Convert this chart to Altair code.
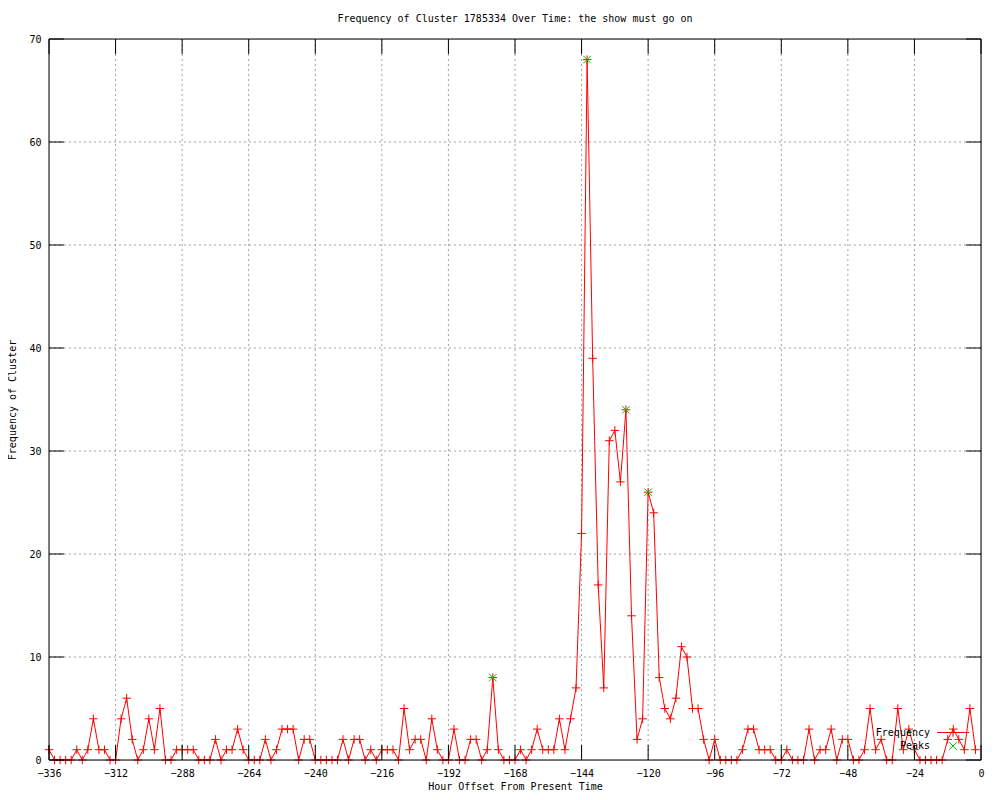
import altair as alt
import pandas as pd

# ---- data ----
hours = list(range(-336, 0, 2))  # one sample every 2 hours, -336 .. -2
freq = [
    1, 0, 0, 0, 0, 1, 0, 1, 4, 1,
    1, 0, 0, 4, 6, 2, 0, 1, 4, 1,
    5, 0, 0, 1, 1, 1, 1, 0, 0, 0,
    2, 0, 1, 1, 3, 1, 0, 0, 0, 2,
    0, 1, 3, 3, 3, 0, 2, 2, 0, 0,
    0, 0, 0, 2, 0, 2, 2, 0, 1, 0,
    1, 1, 1, 0, 5, 1, 2, 2, 0, 4,
    1, 0, 0, 3, 0, 0, 2, 2, 0, 1,
    8, 1, 0, 0, 0, 1, 0, 1, 3, 1,
    1, 1, 4, 1, 4, 7, 22, 68, 39, 17,
    7, 31, 32, 27, 34, 14, 2, 4, 26, 24,
    8, 5, 4, 6, 11, 10, 5, 5, 2, 0,
    2, 0, 0, 0, 0, 1, 3, 3, 1, 1,
    1, 0, 0, 1, 0, 0, 0, 3, 0, 1,
    1, 3, 0, 2, 2, 0, 0, 1, 5, 1,
    2, 0, 0, 5, 1, 3, 1, 0, 0, 0,
    0, 0, 2, 3, 2, 1, 5, 1,
]
peak_hours = [-176, -142, -128, -120]
peak_values = [8, 68, 34, 26]

x_ticks = [-336, -312, -288, -264, -240, -216, -192, -168, -144, -120, -96, -72, -48, -24, 0]
y_ticks = [0, 10, 20, 30, 40, 50, 60, 70]
legend_labels = ["Frequency", "Peaks"]

title_text = "Frequency of Cluster 1785334 Over Time: the show must go on"
x_title = "Hour Offset From Present Time"
y_title = "Frequency of Cluster"

# ---- styling ----
W, H = 932, 721
FONT = "DejaVu Sans Mono"
RED = "#ff0000"
GREEN = "#00c000"
PLUS = "M-1,0L1,0M0,-1L0,1"
CROSS = "M-1,-1L1,1M-1,1L1,-1"
TICK = 15

df = pd.DataFrame({"hour": hours, "freq": freq})
peaks_df = pd.DataFrame({"hour": peak_hours, "freq": peak_values})
xt_df = pd.DataFrame({"hour": x_ticks})
yt_df = pd.DataFrame({"freq": y_ticks})
xg_df = pd.DataFrame({"hour": x_ticks[1:-1]})
yg_df = pd.DataFrame({"freq": y_ticks[1:-1]})

xs = alt.Scale(domain=[x_ticks[0], x_ticks[-1]], nice=False, zero=False)
ys = alt.Scale(domain=[y_ticks[0], y_ticks[-1]], nice=False, zero=False)

axis_font = dict(labelFont=FONT, labelFontSize=10, labelColor="black",
                 labelFontWeight="normal",
                 titleFont=FONT, titleFontSize=10, titleFontWeight="normal",
                 titleColor="black")

x_axis = alt.Axis(values=x_ticks, title=x_title, grid=False, ticks=False, tickSize=0,
                  domain=False, labelFlush=False, labelOverlap=False, labelPadding=8,
                  titlePadding=3, **axis_font)
y_axis = alt.Axis(values=y_ticks, title=y_title, grid=False, ticks=False, tickSize=0,
                  domain=False, labelFlush=False, labelOverlap=False, labelPadding=8,
                  titlePadding=11, **axis_font)


def X():
    return alt.X("hour:Q", scale=xs, axis=x_axis, title=x_title)


def Y():
    return alt.Y("freq:Q", scale=ys, axis=y_axis, title=y_title)


grid_style = dict(color="#a0a0a0", strokeWidth=1, strokeDash=[2, 3])
xgrid = alt.Chart(xg_df).mark_rule(**grid_style).encode(x=X())
ygrid = alt.Chart(yg_df).mark_rule(**grid_style).encode(y=Y())

line = alt.Chart(df).mark_line(color=RED, strokeWidth=1).encode(x=X(), y=Y())
pts = alt.Chart(df).mark_point(shape=PLUS, size=72, color=RED, filled=False,
                               strokeWidth=1, opacity=1).encode(x=X(), y=Y())
peaks = alt.Chart(peaks_df).mark_point(shape=CROSS, size=56, color=GREEN, filled=False,
                                       strokeWidth=1, opacity=1).encode(x=X(), y=Y())

tick_style = dict(color="black", strokeWidth=1)
bt = alt.Chart(xt_df).mark_rule(**tick_style).encode(x=X(), y=alt.value(H), y2=alt.value(H - TICK))
tt = alt.Chart(xt_df).mark_rule(**tick_style).encode(x=X(), y=alt.value(0), y2=alt.value(TICK))
lt = alt.Chart(yt_df).mark_rule(**tick_style).encode(y=Y(), x=alt.value(0), x2=alt.value(TICK))
rt = alt.Chart(yt_df).mark_rule(**tick_style).encode(y=Y(), x=alt.value(W), x2=alt.value(W - TICK))

one = pd.DataFrame({"a": [0]})
frame = alt.Chart(one).mark_rect(fill=None, stroke="black", strokeWidth=1).encode(
    x=alt.value(0), x2=alt.value(W), y=alt.value(0), y2=alt.value(H))

# legend (gnuplot style: label on the left, sample on the right)
LX_TEXT, LX0, LX1, LXS = 881, 888, 920, 904
LY = [693.5, 707]
leg_text = [
    alt.Chart(pd.DataFrame({"label": [lab]})).mark_text(
        align="right", baseline="middle", font=FONT, fontSize=10, color="black"
    ).encode(text="label:N", x=alt.value(LX_TEXT), y=alt.value(ly))
    for lab, ly in zip(legend_labels, LY)
]
leg_line = alt.Chart(one).mark_rule(color=RED, strokeWidth=1).encode(
    x=alt.value(LX0), x2=alt.value(LX1), y=alt.value(LY[0]))
leg_plus = alt.Chart(one).mark_point(shape=PLUS, size=72, color=RED, filled=False,
                                     strokeWidth=1, opacity=1).encode(
    x=alt.value(LXS), y=alt.value(LY[0]))
leg_cross = alt.Chart(one).mark_point(shape=CROSS, size=56, color=GREEN, filled=False,
                                      strokeWidth=1, opacity=1).encode(
    x=alt.value(LXS), y=alt.value(LY[1]))

chart = alt.layer(
    xgrid, ygrid, line, pts, peaks, bt, tt, lt, rt, frame,
    *leg_text, leg_line, leg_plus, leg_cross
).properties(
    width=W, height=H,
    title=alt.TitleParams(title_text, font=FONT, fontSize=10, fontWeight="normal",
                          color="black", anchor="middle", offset=10),
    autosize=alt.AutoSizeParams(type="none"),
    padding={"left": 41, "top": 31, "right": 11, "bottom": 32},
).configure_view(
    stroke=None
).configure_axis(
    **axis_font
).configure(background="white")

chart.save("out.html", embed_options={"renderer": "svg", "actions": False})
